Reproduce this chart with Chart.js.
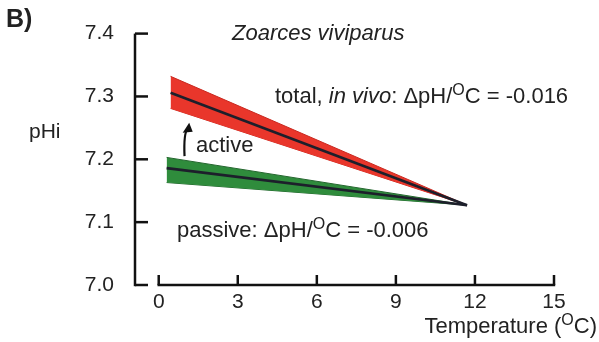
<!DOCTYPE html>
<html>
<head>
<meta charset="utf-8">
<script src="https://cdn.jsdelivr.net/npm/chart.js@4.4.1/dist/chart.umd.min.js"></script>
<style>
  html, body { margin: 0; padding: 0; background: #fff; }
  #wrap { width: 599px; height: 342px; position: relative; }
</style>
</head>
<body>
<div id="wrap"><canvas id="chart"></canvas></div>
<script>
// valores
const xTicks = [0, 3, 6, 9, 12, 15];
const yTicks = [7.0, 7.1, 7.2, 7.3, 7.4];

const totalTemp = [0.45, 11.7];
const totalUpper = [7.332, 7.127];
const totalLower = [7.281, 7.127];
const totalMean = [7.306, 7.127];

const passiveTemp = [0.3, 11.7];
const passiveUpper = [7.203, 7.127];
const passiveLower = [7.163, 7.127];
const passiveMean = [7.186, 7.127];

const FONT = '"Liberation Sans", Arial, Helvetica, sans-serif';
const INK = '#222';

function pts(xs, ys) {
  return xs.map((x, i) => ({ x: x, y: ys[i] }));
}

// texto com italico e expoente
function drawRich(ctx, x, y, parts, size, align) {
  const fontFor = p => `${p.it ? 'italic ' : ''}${p.sup ? Math.round(size * 0.72) : size}px ${FONT}`;
  let total = 0;
  parts.forEach(p => { ctx.font = fontFor(p); total += ctx.measureText(p.t).width; });
  let cx = align === 'center' ? x - total / 2 : (align === 'right' ? x - total : x);
  ctx.textAlign = 'left';
  ctx.textBaseline = 'alphabetic';
  parts.forEach(p => {
    ctx.font = fontFor(p);
    ctx.fillText(p.t, cx, p.sup ? y - size * 0.38 : y);
    cx += ctx.measureText(p.t).width;
  });
}

const axesPlugin = {
  id: 'axesPlugin',
  afterDraw(chart) {
    const ctx = chart.ctx;
    const xs = chart.scales.x, ys = chart.scales.y;
    const left = chart.chartArea.left;
    ctx.save();
    ctx.strokeStyle = '#111';
    ctx.lineWidth = 2.5;
    ctx.lineCap = 'butt';
    // eixo y
    ctx.beginPath();
    ctx.moveTo(left, ys.getPixelForValue(7.4));
    ctx.lineTo(left, ys.getPixelForValue(7.0) + 1.2);
    ctx.stroke();
    yTicks.forEach(v => {
      const py = ys.getPixelForValue(v);
      ctx.beginPath();
      ctx.moveTo(left, py);
      ctx.lineTo(left + 13, py);
      ctx.stroke();
    });
    // eixo x
    const by = ys.getPixelForValue(7.0);
    ctx.beginPath();
    ctx.moveTo(xs.getPixelForValue(0) - 1.2, by);
    ctx.lineTo(xs.getPixelForValue(15) + 1.2, by);
    ctx.stroke();
    xTicks.forEach(v => {
      const px = xs.getPixelForValue(v);
      ctx.beginPath();
      ctx.moveTo(px, by);
      ctx.lineTo(px, by - 10);
      ctx.stroke();
    });

    // seta "active"
    const ax0 = xs.getPixelForValue(0.98), ay0 = ys.getPixelForValue(7.205);
    const ax1 = xs.getPixelForValue(1.1), ay1 = ys.getPixelForValue(7.255);
    ctx.lineWidth = 2.2;
    ctx.beginPath();
    ctx.moveTo(ax0, ay0);
    ctx.quadraticCurveTo(ax0 - 1, ay1 + 8, ax1, ay1 + 4);
    ctx.stroke();
    ctx.fillStyle = '#111';
    ctx.beginPath();
    ctx.moveTo(ax1 + 1.5, ay1 - 2);
    ctx.lineTo(ax1 - 5, ay1 + 8);
    ctx.lineTo(ax1 + 5, ay1 + 7);
    ctx.closePath();
    ctx.fill();

    // textos
    ctx.fillStyle = INK;
    ctx.font = `bold 25px ${FONT}`;
    ctx.textAlign = 'left';
    ctx.textBaseline = 'alphabetic';
    ctx.fillText('B)', 6, 27);
    ctx.font = `21px ${FONT}`;
    ctx.fillText('pHi', 29, 138);
    drawRich(ctx, 232, 40, [{ t: 'Zoarces viviparus', it: true }], 22, 'left');
    drawRich(ctx, 275, 103, [
      { t: 'total, ' }, { t: 'in vivo', it: true }, { t: ': \u0394pH/' },
      { t: 'O', sup: true }, { t: 'C = -0.016' }
    ], 22, 'left');
    drawRich(ctx, 196, 152, [{ t: 'active' }], 22, 'left');
    drawRich(ctx, 177, 237, [
      { t: 'passive: \u0394pH/' }, { t: 'O', sup: true }, { t: 'C = -0.006' }
    ], 22, 'left');
    drawRich(ctx, 597, 333, [
      { t: 'Temperature (' }, { t: 'O', sup: true }, { t: 'C)' }
    ], 22, 'right');
    ctx.restore();
  }
};

const ctx = document.getElementById('chart').getContext('2d');
new Chart(ctx, {
  type: 'line',
  data: {
    datasets: [
      { data: pts(totalTemp, totalUpper), borderColor: '#c9281f', borderWidth: 1,
        backgroundColor: '#e9362b', fill: { target: 1 }, pointRadius: 0, order: 3 },
      { data: pts(totalTemp, totalLower), borderColor: '#c9281f', borderWidth: 1,
        backgroundColor: '#e9362b', fill: false, pointRadius: 0, order: 3 },
      { data: pts(totalTemp, totalMean), borderColor: '#1d1f2b', borderWidth: 2.6,
        fill: false, pointRadius: 0, order: 1 },
      { data: pts(passiveTemp, passiveUpper), borderColor: '#24662e', borderWidth: 1,
        backgroundColor: '#2f8c3c', fill: { target: 4 }, pointRadius: 0, order: 3 },
      { data: pts(passiveTemp, passiveLower), borderColor: '#24662e', borderWidth: 1,
        backgroundColor: '#2f8c3c', fill: false, pointRadius: 0, order: 3 },
      { data: pts(passiveTemp, passiveMean), borderColor: '#1d1f2b', borderWidth: 2.6,
        fill: false, pointRadius: 0, order: 1 }
    ]
  },
  options: {
    responsive: true,
    maintainAspectRatio: false,
    animation: false,
    layout: { padding: { top: 33, right: 45, left: 0, bottom: 0 } },
    plugins: { legend: { display: false }, tooltip: { enabled: false } },
    scales: {
      x: {
        type: 'linear',
        min: -0.9,
        max: 15,
        afterBuildTicks: s => { s.ticks = xTicks.map(v => ({ value: v })); },
        afterFit: s => { s.height = 57; },
        grid: { display: false, drawTicks: false },
        border: { display: false },
        ticks: { font: { size: 21, family: FONT }, color: INK, padding: 5, maxRotation: 0 }
      },
      y: {
        min: 7.0,
        max: 7.4,
        afterBuildTicks: s => { s.ticks = yTicks.map(v => ({ value: v })); },
        afterFit: s => { s.width = 135; },
        grid: { display: false, drawTicks: false },
        border: { display: false },
        ticks: { font: { size: 21, family: FONT }, color: INK, padding: 21,
          callback: v => Number(v).toFixed(1) }
      }
    }
  },
  plugins: [axesPlugin]
});
</script>
</body>
</html>
